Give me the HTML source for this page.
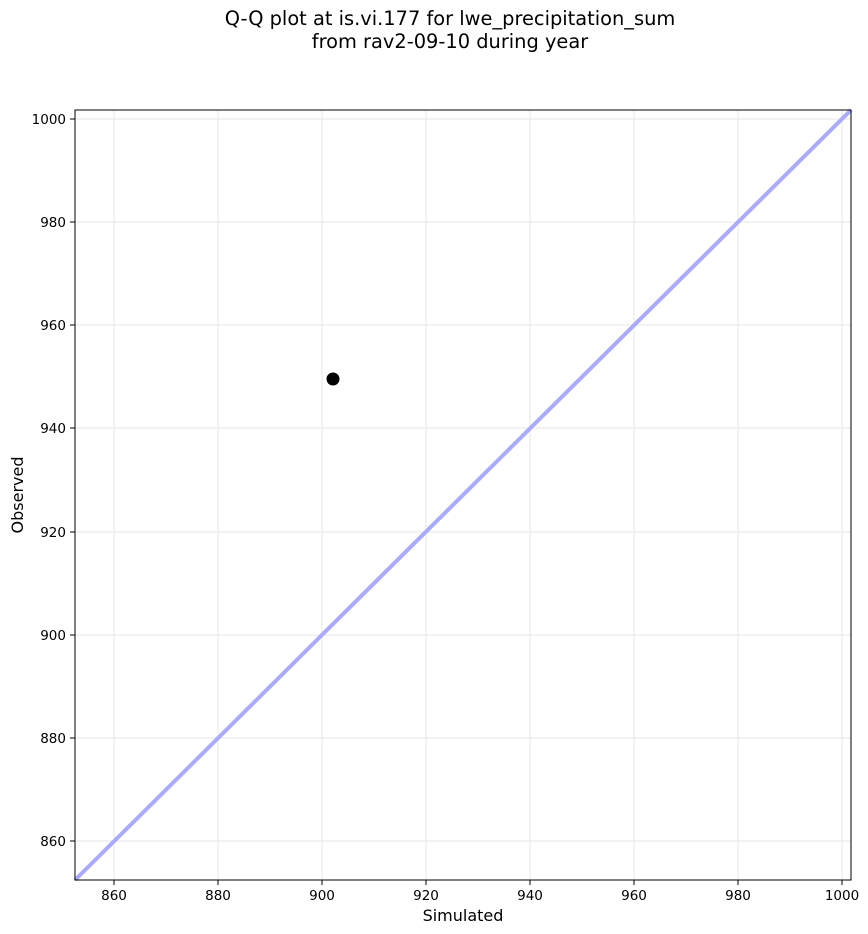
<!DOCTYPE html>
<html><head><meta charset="utf-8"><style>
html,body{margin:0;padding:0;background:#fff;}
svg{display:block;font-family:"DejaVu Sans","Liberation Sans",sans-serif;}
</style></head><body>
<svg width="868" height="934" viewBox="0 0 868 934" xmlns="http://www.w3.org/2000/svg">
<rect width="868" height="934" fill="#fff"/>
<text x="450" y="25" font-size="19.4" text-anchor="middle">Q-Q plot at is.vi.177 for lwe_precipitation_sum</text>
<text x="450" y="48" font-size="19.4" text-anchor="middle">from rav2-09-10 during year</text>
<g stroke="#ebebeb" stroke-width="1.2">
<line x1="114" y1="110" x2="114" y2="880"/>
<line x1="218" y1="110" x2="218" y2="880"/>
<line x1="322" y1="110" x2="322" y2="880"/>
<line x1="426" y1="110" x2="426" y2="880"/>
<line x1="530" y1="110" x2="530" y2="880"/>
<line x1="634" y1="110" x2="634" y2="880"/>
<line x1="738" y1="110" x2="738" y2="880"/>
<line x1="842" y1="110" x2="842" y2="880"/>
<line x1="75" y1="119" x2="851" y2="119"/>
<line x1="75" y1="222" x2="851" y2="222"/>
<line x1="75" y1="325" x2="851" y2="325"/>
<line x1="75" y1="428" x2="851" y2="428"/>
<line x1="75" y1="532" x2="851" y2="532"/>
<line x1="75" y1="635" x2="851" y2="635"/>
<line x1="75" y1="738" x2="851" y2="738"/>
<line x1="75" y1="841" x2="851" y2="841"/>
</g>
<line x1="75" y1="880" x2="851" y2="110" stroke="#aaaaff" stroke-width="4"/>
<circle cx="333" cy="379" r="6.5" fill="#000"/>
<rect x="75" y="110" width="776" height="770" fill="none" stroke="#000" stroke-width="1"/>
<g stroke="#000" stroke-width="1">
<line x1="114" y1="880" x2="114" y2="885"/>
<line x1="218" y1="880" x2="218" y2="885"/>
<line x1="322" y1="880" x2="322" y2="885"/>
<line x1="426" y1="880" x2="426" y2="885"/>
<line x1="530" y1="880" x2="530" y2="885"/>
<line x1="634" y1="880" x2="634" y2="885"/>
<line x1="738" y1="880" x2="738" y2="885"/>
<line x1="842" y1="880" x2="842" y2="885"/>
<line x1="70" y1="119" x2="75" y2="119"/>
<line x1="70" y1="222" x2="75" y2="222"/>
<line x1="70" y1="325" x2="75" y2="325"/>
<line x1="70" y1="428" x2="75" y2="428"/>
<line x1="70" y1="532" x2="75" y2="532"/>
<line x1="70" y1="635" x2="75" y2="635"/>
<line x1="70" y1="738" x2="75" y2="738"/>
<line x1="70" y1="841" x2="75" y2="841"/>
</g>
<g font-size="13.5" text-anchor="middle">
<text x="114" y="900">860</text>
<text x="218" y="900">880</text>
<text x="322" y="900">900</text>
<text x="426" y="900">920</text>
<text x="530" y="900">940</text>
<text x="634" y="900">960</text>
<text x="738" y="900">980</text>
<text x="842" y="900">1000</text>
</g>
<g font-size="13.5" text-anchor="end">
<text x="66" y="124">1000</text>
<text x="66" y="227">980</text>
<text x="66" y="330">960</text>
<text x="66" y="433">940</text>
<text x="66" y="537">920</text>
<text x="66" y="640">900</text>
<text x="66" y="743">880</text>
<text x="66" y="846">860</text>
</g>
<text x="463" y="921" font-size="16" text-anchor="middle">Simulated</text>
<text x="23" y="495" font-size="16" text-anchor="middle" transform="rotate(-90 23 495)">Observed</text>
</svg>
</body></html>
